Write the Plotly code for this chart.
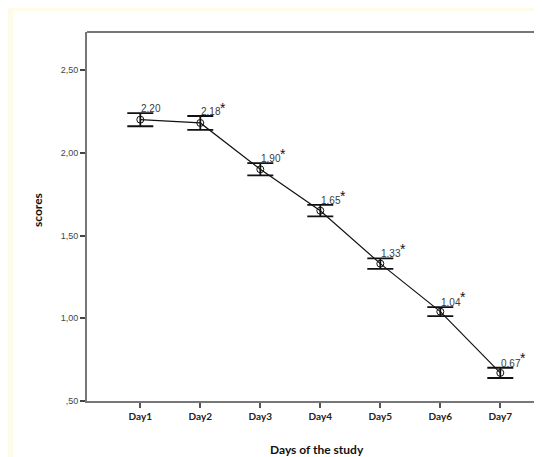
import plotly.graph_objects as go

days = ["Day1", "Day2", "Day3", "Day4", "Day5", "Day6", "Day7"]
means = [2.20, 2.18, 1.90, 1.65, 1.33, 1.04, 0.67]
errs = [0.040, 0.042, 0.037, 0.035, 0.032, 0.027, 0.031]
value_labels = ["2.20", "2.18", "1.90", "1.65", "1.33", "1.04", "0.67"]
significant = [False, True, True, True, True, True, True]
ytick_vals = [0.5, 1.0, 1.5, 2.0, 2.5]
ytick_text = [",50", "1,00", "1,50", "2,00", "2,50"]

W, H = 542, 457
L, T, B, R = 79, 24, 64, 0
pw, ph = W - L - R, H - T - B

def px_x(p):
    return (p - L) / pw

def px_y(p):
    return (H - B - p) / ph

xs = list(range(len(days)))

fig = go.Figure()
fig.add_trace(go.Scatter(
    x=xs, y=means, mode="lines+markers",
    line=dict(color="#111111", width=1.2),
    marker=dict(symbol="circle-open", size=7, color="#111111", line=dict(width=1)),
    error_y=dict(type="data", array=errs, visible=True, color="#111111", thickness=1.8, width=13),
    showlegend=False, hoverinfo="skip",
))

annotations = []
for i, (m, e, lab, sig) in enumerate(zip(means, errs, value_labels, significant)):
    annotations.append(dict(
        x=i, y=m + e, xref="x", yref="y", text=lab, showarrow=False,
        xanchor="left", yanchor="bottom", xshift=-1, yshift=-3,
        font=dict(family="Liberation Sans, Arial", size=10, color="#3a3a3a"),
    ))
    if sig:
        annotations.append(dict(
            x=i, y=m, xref="x", yref="y", text="*", showarrow=False,
            xanchor="center", yanchor="middle", xshift=23, yshift=15,
            font=dict(family="Liberation Sans, Arial", size=14, color="#111111"),
        ))

annotations.append(dict(
    x=px_x(30), y=px_y(202), xref="paper", yref="paper", text="<b>scores</b>",
    textangle=-90, showarrow=False, xanchor="center", yanchor="middle",
    font=dict(family="Lato, Open Sans", size=12, color="#111111"),
))
annotations.append(dict(
    x=px_x(309), y=px_y(441), xref="paper", yref="paper", text="<b>Days of the study</b>",
    showarrow=False, xanchor="center", yanchor="middle",
    font=dict(family="Lato, Open Sans", size=12, color="#111111"),
))

shapes = [
    dict(type="rect", xref="paper", yref="paper", layer="below",
         x0=px_x(5), x1=px_x(W + 5), y0=px_y(H + 5), y1=px_y(3),
         fillcolor="white", line=dict(width=0)),
    dict(type="line", xref="paper", yref="paper", x0=0, x1=px_x(W + 5), y0=1, y1=1,
         line=dict(color="#777777", width=2)),
]

fig.update_layout(
    width=W, height=H,
    margin=dict(l=L, r=R, t=T, b=B, pad=0),
    paper_bgcolor="#FFFBE9", plot_bgcolor="white",
    annotations=annotations, shapes=shapes,
    xaxis=dict(
        range=[-(132.3 - L) / 60, (W - 132.3) / 60],
        tickvals=xs, ticktext=[f"<b>{d}</b>" for d in days],
        showgrid=False, zeroline=False, showline=True, linecolor="#777777", linewidth=2,
        ticks="outside", ticklen=5, tickwidth=1.5, tickcolor="#555555",
        tickfont=dict(family="Lato, Open Sans", size=10, color="#222222"),
    ),
    yaxis=dict(
        range=[0.5, 0.5 + (H - B - T) / 165.5],
        tickvals=ytick_vals, ticktext=ytick_text,
        showgrid=False, zeroline=False, showline=True, linecolor="#777777", linewidth=2,
        ticks="outside", ticklen=5, tickwidth=1.5, tickcolor="#444444",
        tickfont=dict(family="Liberation Sans, Arial", size=9, color="#444444"),
    ),
)

fig.write_html("out.html")
